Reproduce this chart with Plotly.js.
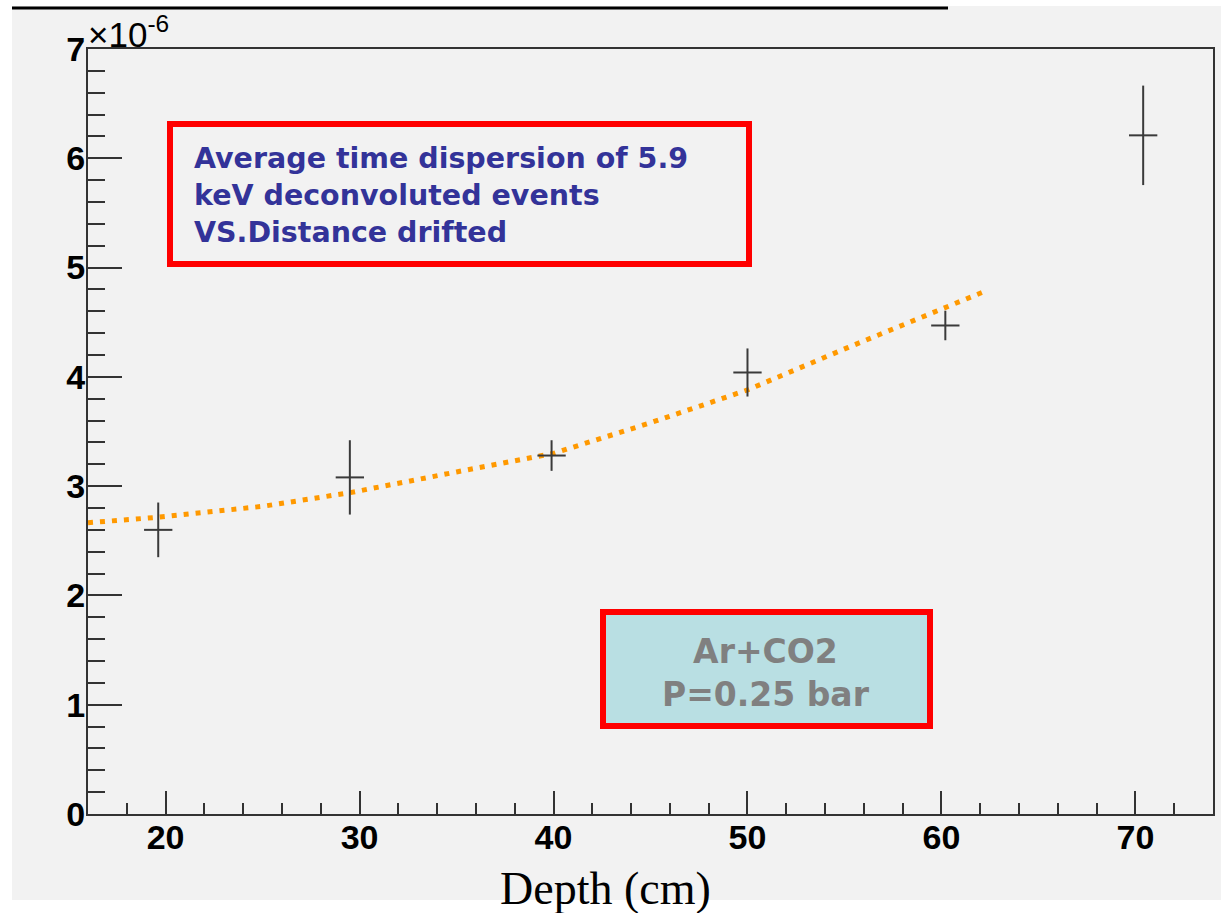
<!DOCTYPE html>
<html>
<head>
<meta charset="utf-8">
<script src="https://cdn.plot.ly/plotly-3.0.1.min.js"></script>
<style>html,body{margin:0;padding:0;background:#fff;}#chart{width:1221px;height:913px;}</style>
</head>
<body>
<div id="chart"></div>
<script>
// Measured points (depth in cm, dispersion in units of 1e-6)
const depth = [19.62, 29.5, 39.9, 50.0, 60.2, 70.4];
const dispersion_e6 = [2.60, 3.08, 3.28, 4.04, 4.47, 6.21];
const dispersion_err = [0.25, 0.34, 0.14, 0.22, 0.135, 0.455];
const depth_err = [0.73, 0.73, 0.73, 0.73, 0.73, 0.73];

// Fit curve
const fitDepth = [16, 19.6, 25, 29.5, 35, 37.2, 40, 45, 50, 55.2, 60.2, 62.2];
const fitValue = [2.665, 2.715, 2.815, 2.94, 3.13, 3.20, 3.30, 3.58, 3.88, 4.27, 4.64, 4.78];

const xTickVals = [20, 30, 40, 50, 60, 70];
const yTickVals = [0, 1, 2, 3, 4, 5, 6, 7];

const boxTitle = "Average time dispersion of 5.9<br>keV deconvoluted events<br>VS.Distance drifted";
const gasText = "Ar+CO2<br>P=0.25 bar";

const W = 1221, H = 913, L = 88, R = 8, T = 49, B = 99;
const pw = W - L - R, ph = H - T - B;
const px = v => (v - L) / pw;
const py = v => (H - B - v) / ph;

const traces = [
  {
    x: fitDepth, y: fitValue, type: 'scatter', mode: 'lines',
    line: {color: '#ff9900', width: 5, dash: '5px,7px', shape: 'linear'},
    hoverinfo: 'skip'
  },
  {
    x: depth, y: dispersion_e6, type: 'scatter', mode: 'markers',
    marker: {size: 1, color: 'rgba(0,0,0,0)'},
    error_y: {type: 'data', array: dispersion_err, visible: true, thickness: 2, width: 0, color: '#3a3a3a'},
    error_x: {type: 'data', array: depth_err, visible: true, thickness: 2, width: 0, color: '#3a3a3a'}
  }
];

const tickFont = {family: 'Liberation Sans, Arial, sans-serif', size: 34, weight: 'bold', color: '#000'};
const boxFont = 'DejaVu Sans, Verdana, sans-serif';

const layout = {
  width: W, height: H,
  margin: {l: L, r: R, t: T, b: B, pad: 0},
  paper_bgcolor: '#f2f2f2', plot_bgcolor: '#f2f2f2',
  showlegend: false,
  xaxis: {
    range: [16, 74], tickvals: xTickVals, ticks: 'inside', ticklen: 23, tickwidth: 2, tickcolor: '#333',
    minor: {dtick: 2, tick0: 0, ticks: 'inside', ticklen: 11, tickwidth: 2, tickcolor: '#333'},
    showline: true, linecolor: '#333', linewidth: 2, mirror: true,
    showgrid: false, zeroline: false, tickfont: tickFont, ticklabelstandoff: -8
  },
  yaxis: {
    range: [0, 7], tickvals: yTickVals, ticks: 'inside', ticklen: 34, tickwidth: 2, tickcolor: '#333',
    minor: {dtick: 0.2, tick0: 0, ticks: 'inside', ticklen: 17, tickwidth: 2, tickcolor: '#333'},
    showline: true, linecolor: '#333', linewidth: 2, mirror: true,
    showgrid: false, zeroline: false, tickfont: tickFont, ticklabelstandoff: -6
  },
  shapes: [
    // white margins around the grey canvas
    {type: 'rect', xref: 'paper', yref: 'paper', x0: px(0), x1: px(12), y0: py(0), y1: py(913), fillcolor: '#fff', line: {width: 0}},
    {type: 'rect', xref: 'paper', yref: 'paper', x0: px(0), x1: px(1221), y0: py(0), y1: py(6), fillcolor: '#fff', line: {width: 0}},
    {type: 'rect', xref: 'paper', yref: 'paper', x0: px(0), x1: px(1221), y0: py(900), y1: py(913), fillcolor: '#fff', line: {width: 0}},
    {type: 'line', xref: 'paper', yref: 'paper', x0: px(12), x1: px(948), y0: py(8), y1: py(8), line: {color: '#000', width: 3}},
    // boxes
    {type: 'rect', xref: 'paper', yref: 'paper', x0: px(170), x1: px(749), y0: py(264), y1: py(124), fillcolor: 'rgba(0,0,0,0)', line: {color: '#ff0000', width: 6}},
    {type: 'rect', xref: 'paper', yref: 'paper', x0: px(603), x1: px(930), y0: py(726), y1: py(612), fillcolor: '#b9dfe3', line: {color: '#ff0000', width: 6}, layer: 'below'}
  ],
  annotations: [
    {xref: 'paper', yref: 'paper', x: px(86), y: py(32), xanchor: 'left', yanchor: 'middle', showarrow: false,
     text: '×10<sup>-6</sup>', font: {family: 'Liberation Sans, Arial, sans-serif', size: 35, color: '#000'}},
    {xref: 'paper', yref: 'paper', x: px(605), y: py(888), xanchor: 'center', yanchor: 'middle', showarrow: false,
     text: 'Depth (cm)', font: {family: 'Liberation Serif, Times New Roman, serif', size: 46, color: '#000'}},
    {xref: 'paper', yref: 'paper', x: px(192), y: py(195.5), xanchor: 'left', yanchor: 'middle', align: 'left', showarrow: false,
     text: boxTitle, font: {family: boxFont, size: 28.5, weight: 'bold', color: '#333399'}},
    {xref: 'paper', yref: 'paper', x: px(766), y: py(672.5), xanchor: 'center', yanchor: 'middle', align: 'center', showarrow: false,
     text: gasText, font: {family: boxFont, size: 33, weight: 'bold', color: '#808080'}}
  ]
};

Plotly.newPlot('chart', traces, layout, {displayModeBar: false, staticPlot: true});
</script>
</body>
</html>
